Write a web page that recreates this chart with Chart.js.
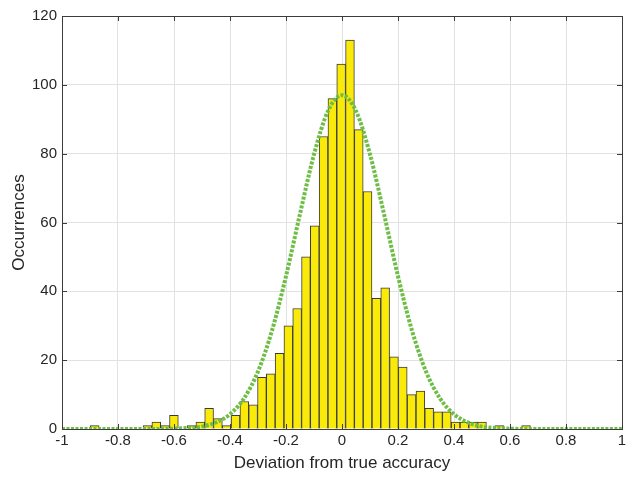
<!DOCTYPE html>
<html>
<head>
<meta charset="utf-8">
<script src="https://cdn.jsdelivr.net/npm/chart.js@4.4.0/dist/chart.umd.min.js"></script>
<style>
  body { margin: 0; background: #fff; }
</style>
</head>
<body>
<canvas id="histChart" width="635" height="483"></canvas>
<script>
// histogram bin centres (50 bins)
const binCenters = [-0.8833, -0.8519, -0.8204, -0.7890, -0.7575, -0.7261, -0.6947, -0.6632, -0.6318, -0.6003,
    -0.5689, -0.5375, -0.5060, -0.4746, -0.4431, -0.4117, -0.3803, -0.3488, -0.3174, -0.2859,
    -0.2545, -0.2231, -0.1916, -0.1602, -0.1287, -0.0973, -0.0659, -0.0344, -0.0030, 0.0285,
    0.0599, 0.0913, 0.1228, 0.1542, 0.1857, 0.2171, 0.2485, 0.2800, 0.3114, 0.3429,
    0.3743, 0.4057, 0.4372, 0.4686, 0.5001, 0.5315, 0.5629, 0.5944, 0.6258, 0.6573];
const counts = [1, 0, 0, 0, 0, 0, 1, 2, 1, 4,
    0, 1, 2, 6, 3, 1, 4, 8, 7, 15,
    16, 22, 30, 35, 50, 59, 85, 96, 106, 113,
    87, 69, 38, 41, 21, 18, 10, 11, 6, 5,
    5, 2, 2, 2, 2, 0, 1, 0, 0, 1];

// fitted normal curve
const fitX = [-1, -0.75, -0.7, -0.65, -0.6, -0.55, -0.5, -0.45, -0.4, -0.35, -0.3, -0.25, -0.2, -0.15, -0.1, -0.05,
    0, 0.05, 0.1, 0.15, 0.2, 0.25, 0.3, 0.35, 0.4, 0.45, 0.5, 0.55, 0.6, 0.65, 0.7, 0.75, 1];
const fitY = [0, 0, 0, 0, 0.1, 0.3, 0.7, 1.9, 4.3, 8.9, 16.7, 28.6, 44.4, 62.5, 79.8, 92.4,
    97, 92.4, 79.8, 62.5, 44.4, 28.6, 16.7, 8.9, 4.3, 1.9, 0.7, 0.3, 0.1, 0, 0, 0, 0];

const xTicks = [-1, -0.8, -0.6, -0.4, -0.2, 0, 0.2, 0.4, 0.6, 0.8, 1];
const yTicks = [0, 20, 40, 60, 80, 100, 120];

const FONT = "'Liberation Sans', Arial, sans-serif";

// matlab style box with inward tick marks
const boxPlugin = {
    id: 'box',
    afterDraw(chart) {
        const ctx = chart.ctx;
        const a = chart.chartArea;
        const xs = chart.scales.x, ys = chart.scales.y;
        ctx.save();
        ctx.strokeStyle = '#3c3c3c';
        ctx.lineWidth = 1;
        ctx.beginPath();
        xTicks.forEach(v => {
            const px = Math.round(xs.getPixelForValue(v)) + 0.5;
            ctx.moveTo(px, a.bottom); ctx.lineTo(px, a.bottom - 5);
            ctx.moveTo(px, a.top); ctx.lineTo(px, a.top + 5);
        });
        yTicks.forEach(v => {
            const py = Math.round(ys.getPixelForValue(v)) + 0.5;
            ctx.moveTo(a.left, py); ctx.lineTo(a.left + 5, py);
            ctx.moveTo(a.right, py); ctx.lineTo(a.right - 5, py);
        });
        ctx.stroke();
        ctx.strokeRect(Math.round(a.left) + 0.5, Math.round(a.top) + 0.5,
            Math.round(a.right - a.left), Math.round(a.bottom - a.top));
        ctx.restore();
    }
};

const ctx = document.getElementById('histChart');
new Chart(ctx, {
    data: {
        datasets: [{
            type: 'line',
            label: 'fit',
            data: fitX.map((x, i) => ({ x: x, y: fitY[i] })),
            borderColor: 'rgb(110, 190, 70)',
            borderWidth: 4,
            borderDash: [3, 1.5],
            pointRadius: 0,
            tension: 0.4,
            cubicInterpolationMode: 'monotone',
            fill: false,
            order: 0
        }, {
            type: 'bar',
            label: 'counts',
            data: binCenters.map((c, i) => ({ x: c, y: counts[i] })),
            backgroundColor: 'rgb(250, 234, 10)',
            borderColor: '#3a3a3a',
            borderWidth: 1,
            barPercentage: 1,
            categoryPercentage: 1,
            order: 1
        }]
    },
    options: {
        responsive: false,
        animation: false,
        layout: { padding: { top: 16, right: 13, left: 0, bottom: 0 } },
        plugins: {
            legend: { display: false },
            tooltip: { enabled: false }
        },
        scales: {
            x: {
                type: 'linear',
                min: -1,
                max: 1,
                offset: false,
                afterFit: s => { s.height = 54; },
                afterBuildTicks: s => { s.ticks = xTicks.map(v => ({ value: v })); },
                grid: { color: '#e2e2e2', drawTicks: false, offset: false },
                border: { display: false },
                ticks: {
                    padding: 3,
                    color: '#262626',
                    font: { family: FONT, size: 15 },
                    maxRotation: 0,
                    callback: v => String(Math.round(v * 10) / 10)
                },
                title: {
                    display: true,
                    text: 'Deviation from true accuracy',
                    color: '#262626',
                    font: { family: FONT, size: 17 },
                    padding: { top: 2, bottom: 9 }
                }
            },
            y: {
                min: 0,
                max: 120,
                afterFit: s => { s.width = 62; },
                afterBuildTicks: s => { s.ticks = yTicks.map(v => ({ value: v })); },
                grid: { color: '#e2e2e2', drawTicks: false },
                border: { display: false },
                ticks: {
                    padding: 5,
                    color: '#262626',
                    font: { family: FONT, size: 15 }
                },
                title: {
                    display: true,
                    text: 'Occurrences',
                    color: '#262626',
                    font: { family: FONT, size: 17 },
                    padding: { top: 9, bottom: 4 }
                }
            }
        }
    },
    plugins: [boxPlugin]
});
</script>
</body>
</html>
